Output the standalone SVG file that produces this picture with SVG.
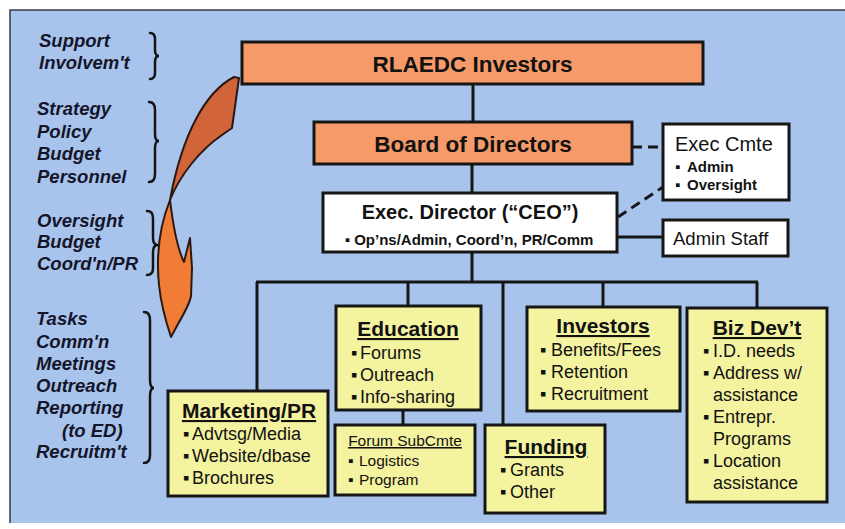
<svg xmlns="http://www.w3.org/2000/svg" width="845" height="529" viewBox="0 0 845 529">
  <style>
    .t{font-family:"Liberation Sans",Arial,sans-serif;fill:#121212}
    .b{font-weight:bold}
    .box{stroke:#161616;stroke-width:3}
    .org{fill:#f59a68}
    .wht{fill:#ffffff}
    .yel{fill:#f4f3a0}
    .h{font-weight:bold;font-size:21px;text-decoration:underline;text-anchor:middle}
    .i{font-size:18px}
    .s{font-size:15.5px}
    .lab{font-family:"Liberation Sans",Arial,sans-serif;font-weight:bold;font-style:italic;font-size:18.5px;fill:#15152a}
    .ln{stroke:#161616;stroke-width:3;fill:none}
    .dash{stroke-dasharray:10 6}
    .brace{stroke:#141414;stroke-width:2.5;fill:none;stroke-linecap:round}
  </style>

  <!-- panel -->
  <rect x="0" y="0" width="845" height="529" fill="#ffffff"/>
  <rect x="10" y="10" width="835" height="513" fill="#a8c4ec"/>
  <path d="M10,523 V10 H845" stroke="#3a3a48" stroke-width="1.5" fill="none"/>

  <!-- role labels with braces -->
  <g id="roles">
    <text class="lab" x="39" y="47">Support</text>
    <text class="lab" x="39" y="69">Involvem't</text>
    <path class="brace" d="M150,33 Q155,33 155,39 L155,50 Q155,56 159,56 Q155,56 155,62 L155,73 Q155,79 150,79"/>

    <text class="lab" x="37" y="115">Strategy</text>
    <text class="lab" x="37" y="138">Policy</text>
    <text class="lab" x="37" y="160">Budget</text>
    <text class="lab" x="37" y="183">Personnel</text>
    <path class="brace" d="M149,102 Q155,102 155,110 L155,134 Q155,141 159,141 Q155,141 155,148 L155,174 Q155,182 149,182"/>

    <text class="lab" x="37" y="227">Oversight</text>
    <text class="lab" x="37" y="248">Budget</text>
    <text class="lab" x="37" y="270">Coord'n/PR</text>
    <path class="brace" d="M147,211 Q153,211 153,218 L153,238 Q153,245 158,245 Q153,245 153,252 L153,268 Q153,275 147,275"/>

    <text class="lab" x="36" y="325">Tasks</text>
    <text class="lab" x="36" y="348">Comm'n</text>
    <text class="lab" x="36" y="370">Meetings</text>
    <text class="lab" x="36" y="392">Outreach</text>
    <text class="lab" x="36" y="414">Reporting</text>
    <text class="lab" x="62" y="437">(to ED)</text>
    <text class="lab" x="36" y="458">Recruitm't</text>
    <path class="brace" d="M144,312 Q150,312 150,320 L150,380 Q150,388 154,388 Q150,388 150,396 L150,455 Q150,463 144,463"/>
  </g>

  <!-- curved flow arrow -->
  <g id="flow-arrow" stroke="#2a1a12" stroke-width="2" stroke-linejoin="round">
    <path fill="#d2643a" d="M234,77 L239,78 L232,128 L222,135 C200,150 180,175 170,200 C182,135 205,92 234,77 Z"/>
    <path fill="#f07c36" d="M170,200 C160,225 156,255 159,285 C161,305 166,322 171,337 L178,324 C185,312 190,302 191,296 L192,268 L190,238 L184,262 C178,250 173,225 170,200 Z"/>
  </g>

  <!-- connectors -->
  <g id="connectors">
    <line class="ln" x1="473" y1="84" x2="473" y2="122"/>
    <line class="ln" x1="472" y1="164" x2="472" y2="193"/>
    <line class="ln" x1="472" y1="252" x2="472" y2="282"/>
    <line class="ln" x1="256" y1="282" x2="758" y2="282"/>
    <line class="ln" x1="257" y1="282" x2="257" y2="391"/>
    <line class="ln" x1="408" y1="282" x2="408" y2="306"/>
    <line class="ln" x1="503" y1="282" x2="503" y2="425"/>
    <line class="ln" x1="603" y1="282" x2="603" y2="307"/>
    <line class="ln" x1="757" y1="282" x2="757" y2="308"/>
    <line class="ln" x1="403" y1="410" x2="403" y2="425"/>
    <line class="ln" x1="617" y1="237" x2="663" y2="237"/>
    <line class="ln dash" x1="632" y1="147" x2="663" y2="147"/>
    <line class="ln dash" x1="618" y1="217" x2="663" y2="187"/>
  </g>

  <g id="investors-top">
    <rect class="box org" x="242" y="42" width="461" height="42"/>
    <text class="t b" x="472.5" y="72" font-size="22.5" text-anchor="middle">RLAEDC Investors</text>
  </g>

  <g id="board">
    <rect class="box org" x="314" y="122" width="318" height="42"/>
    <text class="t b" x="473" y="152" font-size="22.5" text-anchor="middle">Board of Directors</text>
  </g>

  <g id="exec-director">
    <rect class="box wht" x="323" y="193" width="294" height="59"/>
    <text class="t b" x="470" y="219" font-size="20" text-anchor="middle">Exec. Director (“CEO”)</text>
    <text class="t b" x="469" y="245" font-size="15" text-anchor="middle">▪ Op’ns/Admin, Coord’n, PR/Comm</text>
  </g>

  <g id="exec-cmte">
    <rect class="box wht" x="663" y="124" width="126" height="76"/>
    <text class="t" x="675" y="151" font-size="20">Exec Cmte</text>
    <text class="t b" x="675" y="172" font-size="15">▪<tspan x="687">Admin</tspan></text>
    <text class="t b" x="675" y="190" font-size="15">▪<tspan x="687">Oversight</tspan></text>
  </g>

  <g id="admin-staff">
    <rect class="box wht" x="663" y="220" width="125" height="36"/>
    <text class="t" x="673" y="245" font-size="18.5">Admin Staff</text>
  </g>

  <g id="marketing">
    <rect class="box yel" x="168" y="391" width="160" height="105"/>
    <text class="t h" x="249" y="418">Marketing/PR</text>
    <text class="t i" x="183" y="440">▪<tspan x="192">Advtsg/Media</tspan></text>
    <text class="t i" x="183" y="462">▪<tspan x="192">Website/dbase</tspan></text>
    <text class="t i" x="183" y="484">▪<tspan x="192">Brochures</tspan></text>
  </g>

  <g id="education">
    <rect class="box yel" x="336" y="306" width="145" height="104"/>
    <text class="t h" x="408" y="336">Education</text>
    <text class="t i" x="351" y="359">▪<tspan x="360">Forums</tspan></text>
    <text class="t i" x="351" y="381">▪<tspan x="360">Outreach</tspan></text>
    <text class="t i" x="351" y="403">▪<tspan x="360">Info-sharing</tspan></text>
  </g>

  <g id="forum-subcmte">
    <rect class="box yel" x="335" y="425" width="140" height="70"/>
    <text class="t s" x="405" y="446" text-anchor="middle" text-decoration="underline">Forum SubCmte</text>
    <text class="t s" x="348" y="466">▪<tspan x="359">Logistics</tspan></text>
    <text class="t s" x="348" y="485">▪<tspan x="359">Program</tspan></text>
  </g>

  <g id="funding">
    <rect class="box yel" x="485" y="425" width="120" height="88"/>
    <text class="t h" x="546" y="454">Funding</text>
    <text class="t i" x="500" y="476">▪<tspan x="510">Grants</tspan></text>
    <text class="t i" x="500" y="498">▪<tspan x="510">Other</tspan></text>
  </g>

  <g id="investors">
    <rect class="box yel" x="527" y="307" width="153" height="104"/>
    <text class="t h" x="603" y="333">Investors</text>
    <text class="t i" x="540" y="356">▪<tspan x="551">Benefits/Fees</tspan></text>
    <text class="t i" x="540" y="378">▪<tspan x="551">Retention</tspan></text>
    <text class="t i" x="540" y="400">▪<tspan x="551">Recruitment</tspan></text>
  </g>

  <g id="biz-dev">
    <rect class="box yel" x="687" y="308" width="140" height="194"/>
    <text class="t h" x="757" y="335">Biz Dev’t</text>
    <text class="t i" x="703" y="357">▪<tspan x="713">I.D. needs</tspan></text>
    <text class="t i" x="703" y="379">▪<tspan x="713">Address w/</tspan></text>
    <text class="t i" x="713" y="401">assistance</text>
    <text class="t i" x="703" y="423">▪<tspan x="713">Entrepr.</tspan></text>
    <text class="t i" x="713" y="445">Programs</text>
    <text class="t i" x="703" y="467">▪<tspan x="713">Location</tspan></text>
    <text class="t i" x="713" y="489">assistance</text>
  </g>
</svg>
